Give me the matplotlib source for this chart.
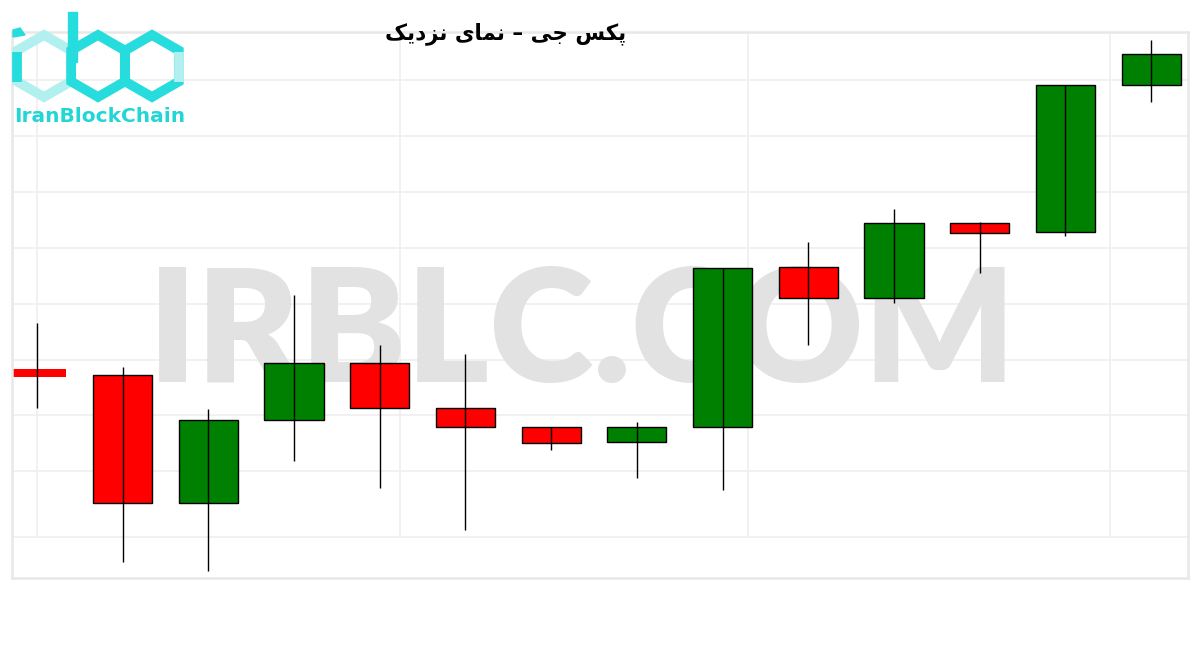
import numpy as np
import matplotlib.pyplot as plt
from matplotlib.patches import RegularPolygon, Rectangle, Polygon

# OHLC values
opens = [1828.2, 1827.1, 1804.3, 1819.1, 1829.3, 1821.25, 1817.9,
         1815.2, 1817.9, 1846.4, 1840.9, 1854.3, 1852.7, 1878.9]
highs = [1836.4, 1828.6, 1821.1, 1841.4, 1832.5, 1830.9, 1817.9,
         1818.75, 1846.25, 1850.9, 1856.8, 1854.5, 1878.9, 1887.0]
lows = [1821.25, 1793.75, 1792.1, 1811.8, 1807.0, 1799.5, 1813.75,
        1808.75, 1806.6, 1832.5, 1840.0, 1845.4, 1852.0, 1875.9]
closes = [1826.8, 1804.3, 1819.1, 1829.3, 1821.25, 1817.9, 1815.0,
          1817.9, 1846.25, 1840.9, 1854.3, 1852.5, 1878.9, 1884.5]
grid_y = [1798.2, 1810, 1820, 1829.8, 1839.8, 1849.8, 1859.8, 1869.8, 1879.8]
grid_x = [0, 4.24, 8.3, 12.52]

# title already in visual (shaped, right-to-left) order
titre = "\uFB8F\uFBFE\uFEA9\uFEB0\uFEE7 \uFBFC\uFE8E\uFEE4\uFEE7 \u2013 \uFBFD\uFE9F \uFEB2\uFB91\uFB58"

fig = plt.figure(figsize=(12, 6.5), dpi=100)
ax = fig.add_axes([0.01, 0.1108, 0.98, 0.84])
ax.set_facecolor("white")

x = np.arange(len(opens))
o = np.array(opens)
c = np.array(closes)
culori = np.where(c >= o, "green", "red")
jos = np.minimum(o, c)
inalt = np.abs(c - o)

for gy in grid_y:
    ax.axhline(gy, color="#efefef", lw=1.2, zorder=0)
for gx in grid_x:
    ax.axvline(gx, ymin=0.075, color="#efefef", lw=1.2, zorder=0)

# watermark, under the candles
ax.text(0.485, 0.4123, "IRBLC.COM", ha="center", va="baseline",
        transform=fig.transFigure, fontsize=114, fontweight="heavy",
        family=["Lato", "DejaVu Sans"], color="#e2e2e2", zorder=1)

muchii = ["none"] + ["black"] * (len(x) - 1)
ax.bar(x, inalt, bottom=jos, width=0.69, color=culori,
       edgecolor=muchii, linewidth=1, zorder=2)
ax.vlines(x, lows, highs, color="black", lw=1, zorder=3)

ax.set_xlim(-0.29, 13.43)
ax.set_ylim(1790.9, 1888.4)
ax.set_xticks([])
ax.set_yticks([])
for s in ax.spines.values():
    s.set_color("#e8e8e8")
    s.set_linewidth(1.8)

fig.text(0.4217, 0.949, titre, ha="center", va="center", fontsize=15.5,
         fontweight="bold", family=["DejaVu Sans"], color="black")

# logo, drawn in pixel coordinates
lg = fig.add_axes([0, 0, 1, 1], zorder=5)
lg.set_xlim(0, 1200)
lg.set_ylim(650, 0)
lg.axis("off")
inchis = "#27dcdc"
deschis = "#b2f0f0"
R = 31
lg.add_patch(RegularPolygon((44, 66), 6, radius=R, orientation=0,
                            fill=False, ec=deschis, lw=7))
lg.add_patch(RegularPolygon((98, 66), 6, radius=R, orientation=0,
                            fill=False, ec=inchis, lw=7))
lg.add_patch(RegularPolygon((152, 66), 6, radius=R, orientation=0,
                            fill=False, ec=inchis, lw=7))
lg.plot([44 - R * 0.866] * 2, [52, 82], color=inchis, lw=7,
        solid_capstyle="butt")
lg.plot([152 + R * 0.866] * 2, [52, 82], color=deschis, lw=7,
        solid_capstyle="butt")
lg.add_patch(Rectangle((68, 12), 9, 50, color=inchis))
lg.add_patch(Polygon([[13, 30], [20, 28], [25, 35], [13, 37]], color=inchis))
lg.text(100, 116, "IranBlockChain", ha="center", va="center", fontsize=14.5,
        fontweight="bold", color="#22d6d6", family="DejaVu Sans")

fig.savefig("out.png", dpi=100, facecolor="white")
